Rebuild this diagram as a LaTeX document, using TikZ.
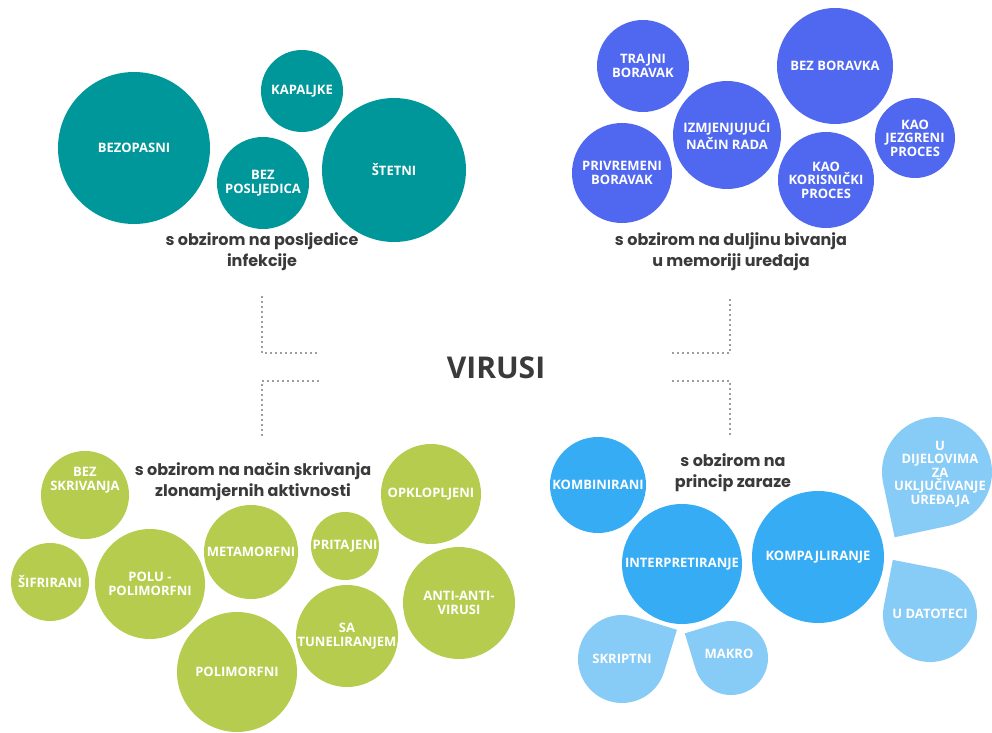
\documentclass[tikz,border=0pt]{standalone}
\usepackage{fontspec}
\setmainfont{Open Sans}
\newfontfamily\podnaslov{Poppins}
\usetikzlibrary{positioning}
\definecolor{tirkiz}{RGB}{0,151,154}
\definecolor{plava}{RGB}{80,104,240}
\definecolor{zelena}{RGB}{182,204,78}
\definecolor{nebo}{RGB}{54,172,245}
\definecolor{svijetla}{RGB}{135,203,247}
\definecolor{tamna}{RGB}{58,58,58}
\tikzstyle{krug}=[circle,inner sep=0pt,text=white,align=center,font=\bfseries\fontsize{6.5}{6.8}\selectfont]
\tikzstyle{naslov}=[text=tamna,align=center,font=\podnaslov\bfseries\fontsize{8}{10.5}\selectfont]
\tikzstyle{tockice}=[tamna,line width=0.8pt,dash pattern=on 0pt off 2.5pt,line cap=round]
\newcommand{\kaplja}[4]{\fill[#4,shift={(#1)},rotate=#3] (#2,#2) -- (0,#2) arc[start angle=90,end angle=360,radius=#2] -- cycle;}

\begin{document}
\begin{tikzpicture}[x=0.5pt,y=-0.5pt]
\useasboundingbox[fill=white] (0,0) rectangle (992,733);
\node[krug,fill=tirkiz,minimum size=76pt] (bezopasni) at (134,148) {BEZOPASNI};
\node[krug,fill=tirkiz,minimum size=41pt] (kapaljke) at (302,91) {KAPALJKE};
\node[krug,fill=tirkiz,minimum size=46pt] (bezposlj) at (263,183) {BEZ\\POSLJEDICA};
\node[krug,fill=tirkiz,minimum size=72pt] (stetni) at (394,170) {ŠTETNI};
\node[naslov] (posljedice) at (262,252) {s obzirom na posljedice\\infekcije};

\node[krug,fill=plava,minimum size=46pt] (trajni) at (643,66) {TRAJNI\\BORAVAK};
\node[krug,fill=plava,minimum size=54pt] (izmj) at (727,135) {IZMJENJUJUĆI\\NAČIN RADA};
\node[krug,fill=plava,minimum size=58pt] (bezbor) at (835,66) {BEZ BORAVKA};
\node[krug,fill=plava,minimum size=50pt] (privr) at (622,173) {PRIVREMENI\\BORAVAK};
\node[krug,fill=plava,minimum size=48pt] (korisn) at (826,180) {KAO\\KORISNIČKI\\PROCES};
\node[krug,fill=plava,minimum size=40pt] (jezgr) at (915,138) {KAO\\JEZGRENI\\PROCES};
\node[naslov] (bivanje) at (731,252) {s obzirom na duljinu bivanja\\u memoriji uređaja};

\node[text=tamna,font=\bfseries\fontsize{15}{15}\selectfont] (virusi) at (496,368) {VIRUSI};
\coordinate (g1) at (262,297); \coordinate (g2) at (318,353);
\coordinate (g3) at (318,381); \coordinate (g4) at (262,435);
\coordinate (g5) at (730,300); \coordinate (g6) at (673,353);
\coordinate (g7) at (673,381); \coordinate (g8) at (730,435);
\draw[tockice] (g1) |- (g2);
\draw[tockice] (g3) -| (g4);
\draw[tockice] (g5) |- (g6);
\draw[tockice] (g7) -| (g8);

\node[krug,fill=zelena,minimum size=44pt] (bezskr) at (85,495) {};
\node[krug] (bezskrt) at (85,480) {BEZ\\SKRIVANJA};
\node[krug,fill=zelena,minimum size=39pt] (sifr) at (50,582) {ŠIFRIRANI};
\node[krug,fill=zelena,minimum size=55pt] (polupoli) at (150,584) {POLU -\\POLIMORFNI};
\node[krug,fill=zelena,minimum size=47pt] (metam) at (251,552) {METAMORFNI};
\node[krug,fill=zelena,minimum size=34pt] (prit) at (345,546) {PRITAJENI};
\node[krug,fill=zelena,minimum size=50pt] (opkl) at (431,494) {OPKLOPLJENI};
\node[krug,fill=zelena,minimum size=56pt] (anti) at (459,603) {ANTI-ANTI-\\VIRUSI};
\node[krug,fill=zelena,minimum size=51pt] (tunel) at (347,636) {SA\\TUNELIRANJEM};
\node[krug,fill=zelena,minimum size=60pt] (polim) at (237,672) {POLIMORFNI};
\node[naslov] (skrivanje) at (253,482) {s obzirom na način skrivanja\\zlonamjernih aktivnosti};

\kaplja{622,659}{44}{73}{svijetla}
\kaplja{731,658}{37}{197}{svijetla}
\kaplja{937,472}{55}{-78}{svijetla}
\kaplja{930,615}{47}{169}{svijetla}
\node[krug,fill=nebo,minimum size=48pt] (kombin) at (598,485) {KOMBINIRANI};
\node[krug,fill=nebo,minimum size=60pt] (interp) at (682,564) {INTERPRETIRANJE};
\node[krug,fill=nebo,minimum size=66pt] (kompaj) at (818,557) {KOMPAJLIRANJE};
\node[krug] (skript) at (622,659) {SKRIPTNI};
\node[krug] (makro) at (729,654) {MAKRO};
\node[krug] (dijel) at (940,474) {U\\DIJELOVIMA\\ZA\\UKLJUČIVANJE\\UREĐAJA};
\node[krug] (datot) at (930,614) {U DATOTECI};
\node[naslov] (zaraza) at (733,473) {s obzirom na\\princip zaraze};
\end{tikzpicture}
\end{document}
